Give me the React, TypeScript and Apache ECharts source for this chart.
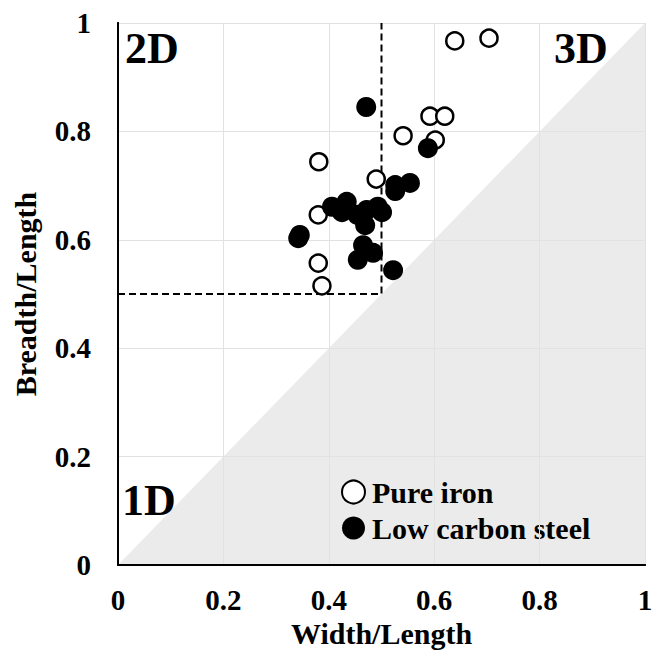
import React, { useEffect, useRef } from "react";
import * as echarts from "echarts";

const pureIronX = [0.639, 0.704, 0.592, 0.620, 0.541, 0.602, 0.381, 0.490, 0.380, 0.380, 0.387];
const pureIronY = [0.967, 0.972, 0.828, 0.828, 0.792, 0.784, 0.744, 0.712, 0.646, 0.557, 0.515];

const steelX = [0.471, 0.588, 0.526, 0.554, 0.526, 0.345, 0.342, 0.406, 0.434, 0.425, 0.454, 0.472, 0.493, 0.501, 0.469, 0.465, 0.484, 0.455, 0.522];
const steelY = [0.845, 0.769, 0.701, 0.705, 0.690, 0.609, 0.603, 0.661, 0.670, 0.651, 0.646, 0.655, 0.661, 0.651, 0.627, 0.590, 0.576, 0.563, 0.544];

const diagonal = [[0, 0], [1, 1]];
const dashedBox = [[0, 0.5], [0.5, 0.5], [0.5, 1]];
const tickValues = [0, 0.2, 0.4, 0.6, 0.8, 1];
const regionLabels = ["1D", "2D", "3D"];

const FONT = "Liberation Serif";

export default function App() {
  const ref = useRef<HTMLDivElement>(null);
  useEffect(() => {
    if (!ref.current) return;
    const chart = echarts.init(ref.current, undefined, { renderer: "svg" });
    const fmt = (v: number) => (tickValues.includes(Number(v.toFixed(1))) ? String(Number(v.toFixed(1))) : "");
    const axisBase = {
      type: "value",
      min: 0,
      max: 1,
      interval: 0.2,
      z: 5,
      axisTick: { show: false },
      axisLine: { show: true, lineStyle: { color: "#000", width: 2 } },
    };
    const labelStyle = { fontFamily: FONT, fontWeight: "bold", fontSize: 29, color: "#000" };
    chart.setOption({
      animation: false,
      backgroundColor: "#fff",
      textStyle: { fontFamily: FONT },
      grid: { left: 118, right: 7, top: 23, bottom: 85, outerBoundsMode: "none", containLabel: false },
      xAxis: [
        {
          ...axisBase,
          position: "bottom",
          name: "Width/Length",
          nameLocation: "middle",
          nameGap: 51,
          nameTextStyle: { fontFamily: FONT, fontWeight: "bold", fontSize: 30, color: "#000" },
          axisLabel: { ...labelStyle, margin: 20, formatter: fmt },
          splitLine: { show: true, lineStyle: { color: "#e2e2e2", width: 1 } },
        },
        {
          ...axisBase,
          position: "top",
          axisLabel: { show: false },
          splitLine: { show: false },
        },
      ],
      yAxis: [
        {
          ...axisBase,
          position: "left",
          name: "Breadth/Length",
          nameLocation: "middle",
          nameGap: 78,
          nameTextStyle: { fontFamily: FONT, fontWeight: "bold", fontSize: 30, color: "#000" },
          axisLabel: { ...labelStyle, margin: 27, formatter: fmt },
          splitLine: { show: true, lineStyle: { color: "#e2e2e2", width: 1 } },
        },
        {
          ...axisBase,
          position: "right",
          axisLabel: { show: false },
          splitLine: { show: false },
        },
      ],
      legend: {
        orient: "vertical",
        left: 336,
        top: 472,
        itemWidth: 23,
        itemHeight: 23,
        itemGap: 6,
        icon: "circle",
        textStyle: { fontFamily: FONT, fontWeight: "bold", fontSize: 30, color: "#000", padding: [0, 0, 0, 2] },
        data: ["Pure iron", "Low carbon steel"],
      },
      graphic: [
        { type: "text", x: 125, y: 48, z: 20, style: { text: regionLabels[1], font: `bold 44px "${FONT}"`, fill: "#000", textVerticalAlign: "middle" } },
        { type: "text", x: 554, y: 48, z: 20, style: { text: regionLabels[2], font: `bold 44px "${FONT}"`, fill: "#000", textVerticalAlign: "middle" } },
        { type: "text", x: 122, y: 500, z: 20, style: { text: regionLabels[0], font: `bold 44px "${FONT}"`, fill: "#000", textVerticalAlign: "middle" } },
      ],
      series: [
        {
          type: "line",
          data: diagonal,
          symbol: "none",
          silent: true,
          z: 1,
          lineStyle: { width: 0, color: "#ebebeb" },
          areaStyle: { color: "#ebebeb", opacity: 1 },
        },
        {
          type: "line",
          data: dashedBox,
          symbol: "none",
          silent: true,
          z: 6,
          lineStyle: { color: "#000", width: 2, type: [7, 4] },
        },
        {
          name: "Pure iron",
          type: "scatter",
          z: 10,
          symbolSize: 17,
          itemStyle: { color: "#fff", borderColor: "#000", borderWidth: 2.5, opacity: 1 },
          data: pureIronX.map((x, i) => [x, pureIronY[i]]),
        },
        {
          name: "Low carbon steel",
          type: "scatter",
          z: 11,
          symbolSize: 20,
          itemStyle: { color: "#000", opacity: 1 },
          data: steelX.map((x, i) => [x, steelY[i]]),
        },
      ],
    });
    return () => chart.dispose();
  }, []);
  return <div ref={ref} style={{ width: 652, height: 650, position: "absolute", left: 0, top: 0 }} />;
}
